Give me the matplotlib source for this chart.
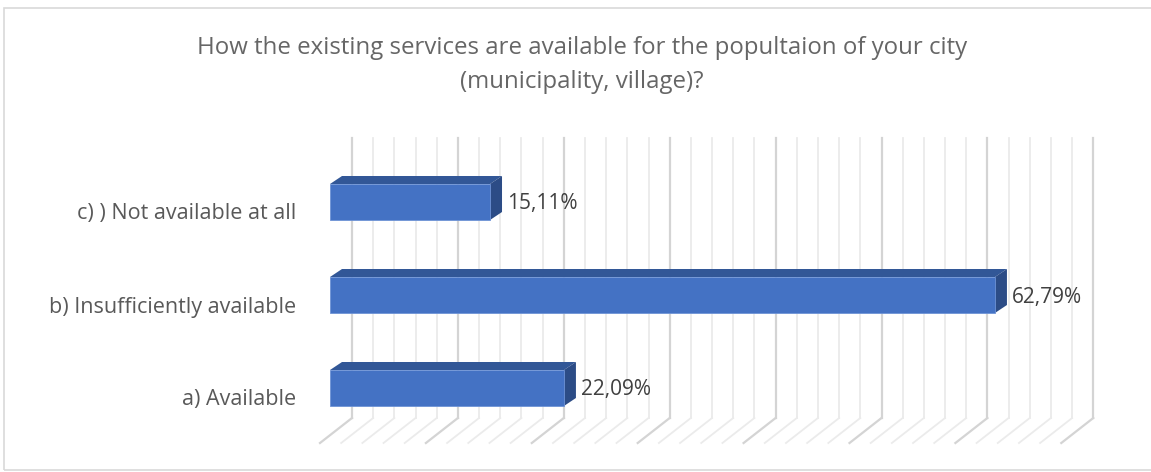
import matplotlib.pyplot as plt
from matplotlib.patches import Polygon, Rectangle

# Données
categories = ["a) Available", "b) Insufficiently available", "c) ) Not available at all"]
values = [22.09, 62.79, 15.11]
value_labels = ["22,09%", "62,79%", "15,11%"]
title = "How the existing services are available for the popultaion of your city\n(municipality, village)?"

x_max = 70  # Limite de l'axe des valeurs
grid_step = 2  # Écart entre les lignes de la grille

# Couleurs
front_color = "#4472C4"
top_color = "#325797"
side_color = "#2C4C86"
text_color = "#595959"

plt.rcParams["font.family"] = ["Open Sans", "DejaVu Sans"]

W, H = 1151, 472
fig = plt.figure(figsize=(W / 100, H / 100), dpi=100)

# Zone de tracé (en pixels) et échelle : 0 % à x=330, 10,59 px par %, 93 px par catégorie
px_x, px_y = 10.59, 93.0
x0_px, y0_px = 330, 388
left, right, top, bottom = 300, 1120, 120, 455
ax = fig.add_axes([left / W, 1 - bottom / H, (right - left) / W, (bottom - top) / H])
ax.set_xlim((left - x0_px) / px_x, (right - x0_px) / px_x)
ax.set_ylim(-(bottom - y0_px) / px_y, (y0_px - top) / px_y)
ax.axis("off")

# Profondeur du mur du fond et des barres
wall_dx = 22 / px_x
floor_dx = -10 / px_x
wall_top = (y0_px - 138) / px_y
wall_bottom = (y0_px - 418) / px_y
floor_front = (y0_px - 443) / px_y
bar_dx = 12 / px_x
bar_dy = 8 / px_y
bar_h = 36 / px_y

# Grille en perspective (mur du fond + sol)
for v in range(0, x_max + 1, grid_step):
    major = v % 10 == 0
    c = "#D4D4D4" if major else "#EBEBEB"
    lw = 1.6 if major else 1.3
    ax.plot([v + wall_dx, v + wall_dx], [wall_bottom, wall_top], color=c, lw=lw, zorder=1)
    ax.plot([v + wall_dx, v + floor_dx], [wall_bottom, floor_front], color=c, lw=lw, zorder=1)

# Barres 3D : face avant, dessus et côté
for i, (v, lab) in enumerate(zip(values, value_labels)):
    y1, y2 = i - bar_h / 2, i + bar_h / 2
    ax.add_patch(Polygon([(0, y2), (v, y2), (v + bar_dx, y2 + bar_dy), (bar_dx, y2 + bar_dy)],
                         closed=True, facecolor=top_color, edgecolor="none", zorder=3))
    ax.add_patch(Polygon([(v, y1), (v, y2), (v + bar_dx, y2 + bar_dy), (v + bar_dx, y1 + bar_dy)],
                         closed=True, facecolor=side_color, edgecolor="none", zorder=3))
    ax.add_patch(Rectangle((0, y1), v, bar_h, facecolor=front_color, edgecolor="#6E93D6",
                           lw=0.6, zorder=4))
    ax.text(v + bar_dx + 5 / px_x, i - 2 / px_y, lab, ha="left", va="center", fontsize=15,
            color="#404040", zorder=5)

# Étiquettes des catégories
for i, cat in enumerate(categories):
    ax.text((296 - x0_px) / px_x, i - 12 / px_y, cat, ha="right", va="center", fontsize=15.5,
            color=text_color, zorder=5)

fig.text(582 / W, 1 - 65 / H, title, ha="center", va="center", fontsize=17.3, color="#666666",
         linespacing=1.6)

# Cadre du graphique
fig.patches.append(Rectangle((4 / W, 1 - 470 / H), 1.2, (470 - 8) / H, transform=fig.transFigure,
                             fill=False, edgecolor="#D9D9D9", lw=1.2))

fig.savefig("out.png", dpi=100)
